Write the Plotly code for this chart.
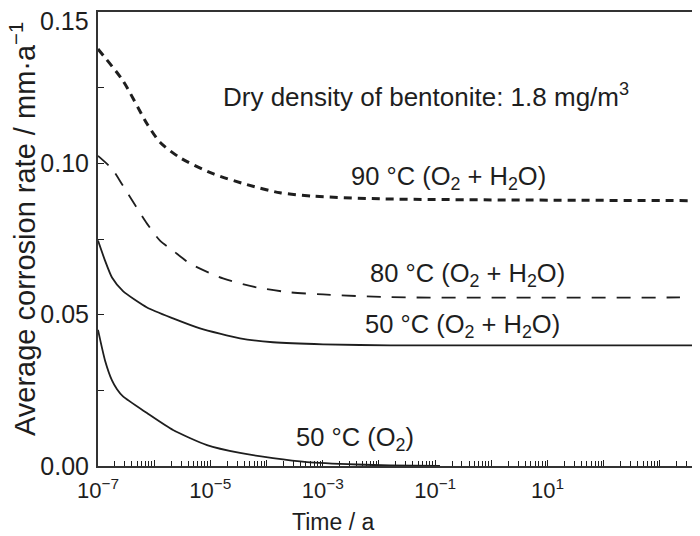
import plotly.graph_objects as go

# ---- data ----
# time is stored as log10(years)
log_t_90 = [-7.0, -6.555, -6.128, -5.897, -5.541, -4.954, -4.349, -3.762, -3.174, -1.982, 3.57]
rate_90 = [0.1378, 0.1273, 0.1131, 0.1070, 0.1019, 0.0966, 0.0930, 0.0903, 0.0892, 0.0883, 0.0877]

log_t_80 = [-7.0, -6.751, -6.555, -6.128, -5.897, -5.665, -5.363, -4.776, -4.171, -3.584, -2.996, -1.804, 3.356]
rate_80 = [0.1025, 0.0982, 0.0926, 0.0801, 0.0745, 0.0712, 0.0669, 0.0620, 0.0590, 0.0574, 0.0567, 0.0558, 0.0557]

log_t_50w = [-7.0, -6.875, -6.751, -6.555, -6.128, -5.665, -5.185, -4.473, -3.886, -2.996, -1.804, 3.57]
rate_50w = [0.0745, 0.0679, 0.0623, 0.0578, 0.0524, 0.0488, 0.0455, 0.0422, 0.0409, 0.0402, 0.0399, 0.0399]

log_t_50 = [-7.0, -6.875, -6.751, -6.662, -6.555, -6.128, -5.665, -5.06, -4.473, -3.886, -3.281, -2.391, -1.804, -0.915]
rate_50 = [0.0450, 0.0349, 0.0283, 0.0254, 0.0230, 0.0175, 0.0119, 0.0069, 0.0043, 0.0026, 0.0013, 0.0005, 0.0002, 0.0]

x_tick_exponents = [-7, -5, -3, -1, 1]
y_tick_values = [0.00, 0.05, 0.10, 0.15]

labels = {
    "note": "Dry density of bentonite: 1.8 mg/m<sup>3</sup>",
    "90": "90 °C (O<sub>2</sub> + H<sub>2</sub>O)",
    "80": "80 °C (O<sub>2</sub> + H<sub>2</sub>O)",
    "50w": "50 °C (O<sub>2</sub> + H<sub>2</sub>O)",
    "50": "50 °C (O<sub>2</sub>)",
}

FONT = "Liberation Sans, Arial, sans-serif"
INK = "#1e1e1e"

def tvals(logs):
    return [10 ** v for v in logs]

fig = go.Figure()
fig.add_trace(go.Scatter(x=tvals(log_t_90), y=rate_90, mode="lines",
                         line=dict(color=INK, width=3, dash="8px,6px", shape="spline", smoothing=0.7)))
fig.add_trace(go.Scatter(x=tvals(log_t_80), y=rate_80, mode="lines",
                         line=dict(color=INK, width=1.8, dash="14px,11px", shape="spline", smoothing=0.7)))
fig.add_trace(go.Scatter(x=tvals(log_t_50w), y=rate_50w, mode="lines",
                         line=dict(color=INK, width=1.8, shape="spline", smoothing=0.6)))
fig.add_trace(go.Scatter(x=tvals(log_t_50), y=rate_50, mode="lines",
                         line=dict(color=INK, width=1.8, shape="spline", smoothing=0.6)))

# tick positions
all_decades = list(range(-7, 4))
major_vals = [10 ** d for d in all_decades]
major_text = [("10<sup>%s</sup>" % (str(d).replace("-", "−"))) if d in x_tick_exponents else "" for d in all_decades]
minor_vals = [k * 10 ** d for d in all_decades for k in range(2, 10)]

# the top y label (0.15) would be clipped by the page edge, so it is drawn as an annotation
y_tick_text = ["%.2f" % v for v in y_tick_values]
top_label = y_tick_text[-1]
y_tick_text_axis = y_tick_text[:-1] + [""]

fig.update_xaxes(type="log", range=[-7, 3.57],
                 tickvals=major_vals, ticktext=major_text,
                 ticks="inside", ticklen=6, tickwidth=1, tickcolor=INK,
                 minor=dict(tickvals=minor_vals, ticks="inside", ticklen=5, tickwidth=1, tickcolor=INK),
                 showline=True, linewidth=2, linecolor="#333", mirror=True,
                 showgrid=False, zeroline=False, ticklabelstandoff=4,
                 tickfont=dict(family=FONT, size=22, color=INK))
fig.update_yaxes(range=[0, 0.15005], tickvals=y_tick_values, ticktext=y_tick_text_axis,
                 ticks="inside", ticklen=6, tickwidth=1, tickcolor=INK,
                 minor=dict(dtick=0.025, ticks="inside", ticklen=6, tickwidth=1, tickcolor=INK),
                 showline=True, linewidth=2, linecolor="#333", mirror=True,
                 showgrid=False, zeroline=False, ticklabelstandoff=2,
                 tickfont=dict(family=FONT, size=25, color=INK))

# page offset (browser body margin) compensation
OFF = 8
W, H = 700 - OFF, 536 - OFF
PL, PR, PT, PB = 98, 692, 10, 466   # plot area in page pixels
L, T = PL - OFF, PT - OFF
R, B = W - (PR - OFF), H - (PB - OFF)
pw, ph = W - L - R, H - T - B

def px(xp):
    return (xp - OFF - L) / pw
def py(yp):
    return (H - B - (yp - OFF)) / ph

def ann(text, x, y, size, xanchor="center", **kw):
    fig.add_annotation(text=text, x=px(x), y=py(y), xref="paper", yref="paper",
                       xanchor=xanchor, yanchor="middle", showarrow=False,
                       font=dict(family=FONT, size=size, color=INK), **kw)

ann(top_label, 91, 19, 25, xanchor="right")
ann(labels["note"], 426, 94, 26)
ann(labels["90"], 448, 177, 25.5)
ann(labels["80"], 467, 274, 25.5)
ann(labels["50w"], 462, 325, 25.5)
ann(labels["50"], 355, 439, 25.5)
ann("Time / a", 333, 522, 23)
ann("Average corrosion rate / mm·a<sup>−1</sup>", 23, 228, 29, textangle=-90)

fig.update_layout(width=W, height=H, margin=dict(l=L, r=R, t=T, b=B),
                  paper_bgcolor="white", plot_bgcolor="white", showlegend=False)

fig.write_html("out.html")
